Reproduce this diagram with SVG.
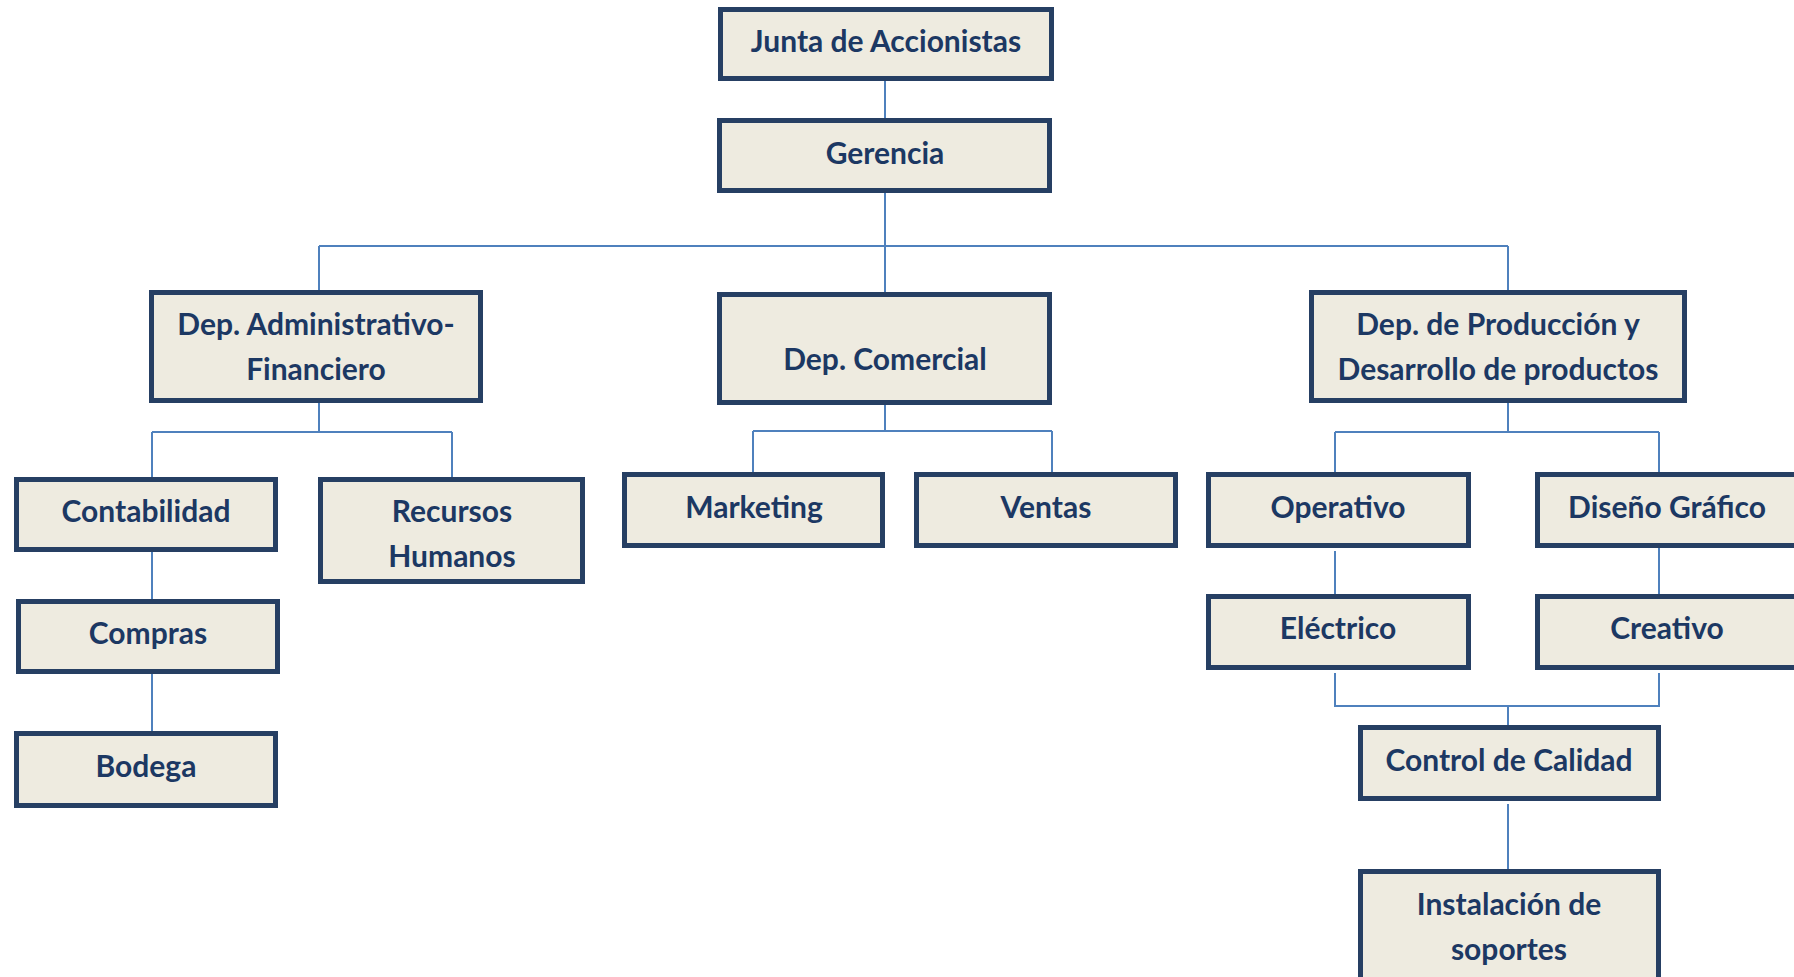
<svg xmlns="http://www.w3.org/2000/svg" width="1794" height="977" viewBox="0 0 1794 977">
<style>
.box{fill:#EEEBE0;stroke:#263F63;stroke-width:5}
.t{font-family:Lato,"Liberation Sans",sans-serif;font-weight:bold;font-size:30px;fill:#1C3863;text-anchor:middle}
.c{fill:none;stroke:#4F81BD;stroke-width:2}
</style>
<rect width="1794" height="977" fill="#FFFFFF"/>
<g id="connectors">
<path class="c" d="M885,81V118 M885,193V292 M319,246H1508 M319,246V290 M1508,246V290"/>
<path class="c" d="M319,403V432 M152,432H452 M152,432V477 M452,432V477 M152,552V599 M152,674V731"/>
<path class="c" d="M885,405V431 M753,431H1052 M753,431V472 M1052,431V472"/>
<path class="c" d="M1508,403V432 M1335,432H1659 M1335,432V472 M1659,432V472 M1335,551V594 M1659,548V594"/>
<path class="c" d="M1335,673V706 H1659 V673 M1508,706V725 M1508,804V869"/>
</g>
<g id="junta"><rect class="box" x="720.5" y="9.5" width="331" height="69"/><text class="t" x="886" y="52">Junta de Accionistas</text></g>
<g id="gerencia"><rect class="box" x="719.5" y="120.5" width="330" height="70"/><text class="t" x="885" y="164">Gerencia</text></g>
<g id="dep-admin"><rect class="box" x="151.5" y="292.5" width="329" height="108"/><text class="t" x="316" y="335">Dep. Administrativo-</text><text class="t" x="316" y="380">Financiero</text></g>
<g id="dep-comercial"><rect class="box" x="719.5" y="294.5" width="330" height="108"/><text class="t" x="885" y="370">Dep. Comercial</text></g>
<g id="dep-produccion"><rect class="box" x="1311.5" y="292.5" width="373" height="108"/><text class="t" x="1498" y="335">Dep. de Producción y</text><text class="t" x="1498" y="380">Desarrollo de productos</text></g>
<g id="contabilidad"><rect class="box" x="16.5" y="479.5" width="259" height="70"/><text class="t" x="146" y="522">Contabilidad</text></g>
<g id="recursos-humanos"><rect class="box" x="320.5" y="479.5" width="262" height="102"/><text class="t" x="452" y="522">Recursos</text><text class="t" x="452" y="567">Humanos</text></g>
<g id="compras"><rect class="box" x="18.5" y="601.5" width="259" height="70"/><text class="t" x="148" y="644">Compras</text></g>
<g id="bodega"><rect class="box" x="16.5" y="733.5" width="259" height="72"/><text class="t" x="146" y="777">Bodega</text></g>
<g id="marketing"><rect class="box" x="624.5" y="474.5" width="258" height="71"/><text class="t" x="754" y="518">Marketing</text></g>
<g id="ventas"><rect class="box" x="916.5" y="474.5" width="259" height="71"/><text class="t" x="1046" y="518">Ventas</text></g>
<g id="operativo"><rect class="box" x="1208.5" y="474.5" width="260" height="71"/><text class="t" x="1338" y="518">Operativo</text></g>
<g id="diseno-grafico"><rect class="box" x="1537.5" y="474.5" width="260" height="71"/><text class="t" x="1667" y="518">Diseño Gráfico</text></g>
<g id="electrico"><rect class="box" x="1208.5" y="596.5" width="260" height="71"/><text class="t" x="1338" y="639">Eléctrico</text></g>
<g id="creativo"><rect class="box" x="1537.5" y="596.5" width="260" height="71"/><text class="t" x="1667" y="639">Creativo</text></g>
<g id="control-calidad"><rect class="box" x="1360.5" y="727.5" width="298" height="71"/><text class="t" x="1509" y="771">Control de Calidad</text></g>
<g id="instalacion"><rect class="box" x="1360.5" y="871.5" width="298" height="118"/><text class="t" x="1509" y="915">Instalación de</text><text class="t" x="1509" y="960">soportes</text></g>
</svg>
